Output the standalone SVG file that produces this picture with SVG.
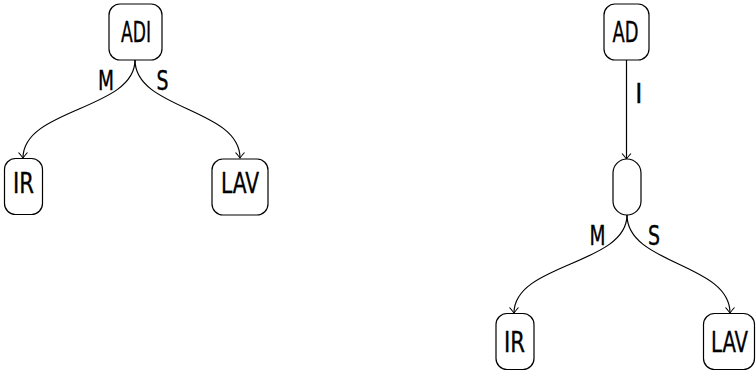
<svg xmlns="http://www.w3.org/2000/svg" width="756" height="371" viewBox="0 0 756 371">
<style>
.box{fill:#fff;stroke:#000;stroke-width:1.2}
.nt{font-family:"Liberation Sans Narrow","DejaVu Sans Condensed","Liberation Sans",sans-serif;font-size:28px;fill:#000;stroke:#000;stroke-width:0.35;text-anchor:middle}
.lt{font-family:"Liberation Sans Narrow","DejaVu Sans Condensed","Liberation Sans",sans-serif;font-size:26.5px;fill:#000;stroke:#000;stroke-width:0.35;text-anchor:middle}
.e{fill:none;stroke:#000;stroke-width:1.2;marker-end:url(#arr)}
</style>
<defs>
<marker id="arr" markerUnits="userSpaceOnUse" markerWidth="14" markerHeight="14" viewBox="-8 -7 9 14" refX="0" refY="0" orient="auto">
<path d="M-5.5,-4.5 Q-1.5,-1 0,0 Q-1.5,1 -5.5,4.5" fill="none" stroke="#000" stroke-width="1.1"/>
</marker>
</defs>
<g id="connectors">
<path class="e" d="M135,60 C135,110 23,108 23,158"/>
<path class="e" d="M135,60 C135,110 240,108 240,158"/>
<path class="e" d="M626.5,60 L626.5,159"/>
<path class="e" d="M627,215 C627,265 514,263 514,313"/>
<path class="e" d="M627,215 C627,265 730,263 730,313"/>
<text class="lt" x="106" y="90" textLength="16" lengthAdjust="spacingAndGlyphs">M</text>
<text class="lt" x="162.5" y="90" textLength="12" lengthAdjust="spacingAndGlyphs">S</text>
<text class="lt" x="638.7" y="103">I</text>
<text class="lt" x="597.5" y="245" textLength="16" lengthAdjust="spacingAndGlyphs">M</text>
<text class="lt" x="654" y="245" textLength="12" lengthAdjust="spacingAndGlyphs">S</text>
</g>
<g id="ADI"><rect class="box" x="109" y="4" width="53" height="56" rx="11"/><text class="nt" x="136" y="42" textLength="30" lengthAdjust="spacingAndGlyphs">ADI</text></g>
<g id="IR1"><rect class="box" x="4.5" y="158.5" width="38" height="56" rx="11"/><text class="nt" x="23.5" y="193" textLength="21" lengthAdjust="spacingAndGlyphs">IR</text></g>
<g id="LAV1"><rect class="box" x="212" y="159" width="56" height="56" rx="11"/><text class="nt" x="240" y="193" textLength="38" lengthAdjust="spacingAndGlyphs">LAV</text></g>
<g id="AD"><rect class="box" x="604" y="4" width="45" height="56" rx="11"/><text class="nt" x="625.5" y="42" textLength="26" lengthAdjust="spacingAndGlyphs">AD</text></g>
<g id="J"><rect class="box" x="613" y="159" width="28" height="56" rx="14"/></g>
<g id="IR2"><rect class="box" x="496" y="313.5" width="38" height="56" rx="11"/><text class="nt" x="514.5" y="352" textLength="21" lengthAdjust="spacingAndGlyphs">IR</text></g>
<g id="LAV2"><rect class="box" x="703.5" y="313.5" width="51" height="56" rx="11"/><text class="nt" x="729.5" y="352" textLength="37" lengthAdjust="spacingAndGlyphs">LAV</text></g>
</svg>
